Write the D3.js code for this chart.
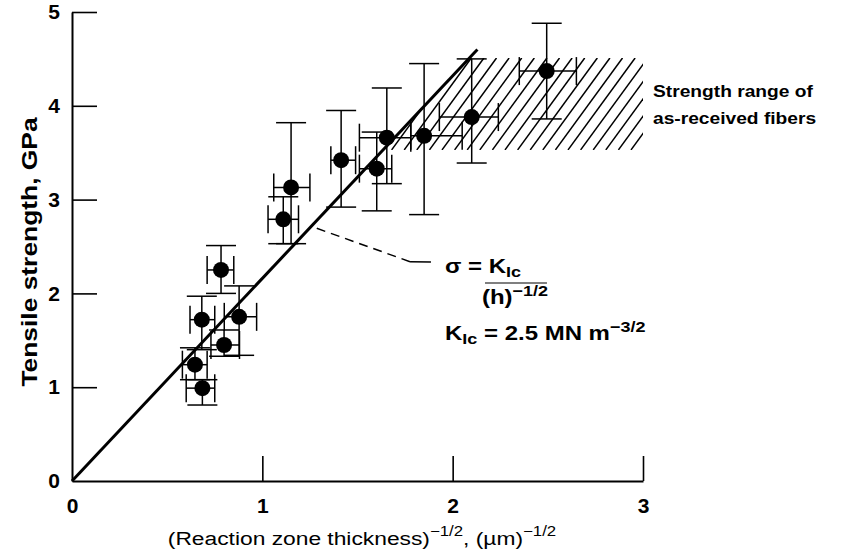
<!DOCTYPE html>
<html>
<head>
<meta charset="utf-8">
<script src="https://cdn.jsdelivr.net/npm/d3@7"></script>
<style>
  body { margin: 0; background: #fff; }
  text { font-family: "Liberation Sans", Arial, Helvetica, sans-serif; fill: #000; }
</style>
</head>
<body>
<div id="chart"></div>
<script>
// Measured points: x = (reaction zone thickness)^-1/2, y = tensile strength (GPa)
const xVals = [0.685, 0.646, 0.799, 0.682, 0.878, 0.783, 1.11, 1.151, 1.414, 1.601, 1.654, 1.85, 2.10, 2.494];
const yVals = [0.99, 1.24, 1.45, 1.72, 1.75, 2.25, 2.79, 3.13, 3.42, 3.33, 3.66, 3.68, 3.88, 4.37];
// error bar ends
const xLo = [0.60, 0.58, 0.73, 0.62, 0.80, 0.71, 1.03, 1.06, 1.36, 1.51, 1.51, 1.78, 1.93, 2.35];
const xHi = [0.75, 0.71, 0.88, 0.75, 0.97, 0.85, 1.19, 1.25, 1.49, 1.68, 1.78, 2.05, 2.24, 2.65];
const yLo = [0.81, 1.08, 1.33, 1.40, 1.34, 2.00, 2.53, 2.53, 2.92, 2.88, 3.17, 2.84, 3.39, 3.86];
const yHi = [1.08, 1.42, 1.61, 1.97, 2.08, 2.51, 3.03, 3.82, 3.95, 3.72, 4.19, 4.45, 4.50, 4.88];

// fitted line sigma = K / h^-1/2
const fitX = [0, 2.13];
const fitY = [0, 4.60];

// strength range of as-received fibers (hatched band)
const bandY = [3.53, 4.51];
const bandXEnd = 3;

// dashed leader from the line to the equation
const leaderX = [1.286, 1.776, 1.886];
const leaderY = [2.694, 2.338, 2.335];

const xTicks = [0, 1, 2, 3];
const yTicks = [0, 1, 2, 3, 4, 5];

const width = 843, height = 554;
const margin = { top: 12, right: 200, bottom: 73, left: 72 };
// lettering in the original is a little wider than Arial
const stretch = 1.2;

const svg = d3.select("#chart")
    .append("svg")
    .attr("width", width)
    .attr("height", height);

const x = d3.scaleLinear().domain([0, 3]).range([margin.left, width - margin.right]);
const y = d3.scaleLinear().domain([0, 5]).range([height - margin.bottom, margin.top]);

// text placed at (px, py) and widened horizontally
function wideText(px, py, size, bold, anchor, rot) {
    const g = svg.append("g")
        .attr("transform", `translate(${px}, ${py})${rot ? " rotate(" + rot + ")" : ""} scale(${stretch}, 1)`);
    return g.append("text")
        .attr("text-anchor", anchor || "start")
        .style("font-size", size + "px")
        .style("font-weight", bold ? "bold" : "normal");
}

// Axes with inward ticks
const xAxis = svg.append("g")
    .attr("transform", `translate(0, ${y(0)})`)
    .call(d3.axisBottom(x).tickValues(xTicks).tickFormat(d3.format("d"))
        .tickSize(-25).tickSizeOuter(0).tickPadding(17));

const yAxis = svg.append("g")
    .attr("transform", `translate(${x(0)}, 0)`)
    .call(d3.axisLeft(y).tickValues(yTicks).tickFormat(d3.format("d"))
        .tickSize(-25).tickSizeOuter(0).tickPadding(12));

[xAxis, yAxis].forEach(g => {
    g.select(".domain").attr("stroke", "#000").attr("stroke-width", 2);
    g.selectAll(".tick line").attr("stroke", "#000").attr("stroke-width", 1.6);
    g.selectAll(".tick text")
        .style("font-size", "21px")
        .style("font-weight", "bold")
        .attr("fill", "#000");
});
// no inner tick at the origin
xAxis.selectAll(".tick").filter(d => d === 0).select("line").remove();
yAxis.selectAll(".tick").filter(d => d === 0).select("line").remove();

// Hatched band, clipped between the fit line and x = 3
const slope = fitY[1] / fitX[1];
const bandPoly = [
    [x(bandY[0] / slope), y(bandY[0])],
    [x(bandY[1] / slope), y(bandY[1])],
    [x(bandXEnd), y(bandY[1])],
    [x(bandXEnd), y(bandY[0])]
];
svg.append("clipPath")
    .attr("id", "bandClip")
    .append("path")
    .attr("d", "M" + bandPoly.join("L") + "Z");

const hatch = svg.append("g").attr("clip-path", "url(#bandClip)");
const hTop = y(bandY[1]), hBot = y(bandY[0]);
const run = (hBot - hTop) / 1.37;
for (let sx = bandPoly[0][0] - run; sx < x(bandXEnd) + 5; sx += 12.6) {
    hatch.append("line")
        .attr("x1", sx).attr("y1", hBot)
        .attr("x2", sx + run).attr("y2", hTop)
        .attr("stroke", "#000")
        .attr("stroke-width", 1.5);
}

// Fitted line
svg.append("line")
    .attr("x1", x(fitX[0])).attr("y1", y(fitY[0]))
    .attr("x2", x(fitX[1])).attr("y2", y(fitY[1]))
    .attr("stroke", "#000")
    .attr("stroke-width", 3);

// Error bars
const data = xVals.map((d, i) => ({ x: d, y: yVals[i], xl: xLo[i], xh: xHi[i], yl: yLo[i], yh: yHi[i] }));
const capV = 15, capH = 14;
const bars = svg.append("g")
    .attr("stroke", "#000")
    .attr("stroke-width", 1.5);

data.forEach(d => {
    const g = bars.append("g");
    g.append("line").attr("x1", x(d.x)).attr("x2", x(d.x)).attr("y1", y(d.yl)).attr("y2", y(d.yh));
    g.append("line").attr("x1", x(d.x) - capV).attr("x2", x(d.x) + capV).attr("y1", y(d.yl)).attr("y2", y(d.yl));
    g.append("line").attr("x1", x(d.x) - capV).attr("x2", x(d.x) + capV).attr("y1", y(d.yh)).attr("y2", y(d.yh));
    g.append("line").attr("x1", x(d.xl)).attr("x2", x(d.xh)).attr("y1", y(d.y)).attr("y2", y(d.y));
    g.append("line").attr("x1", x(d.xl)).attr("x2", x(d.xl)).attr("y1", y(d.y) - capH).attr("y2", y(d.y) + capH);
    g.append("line").attr("x1", x(d.xh)).attr("x2", x(d.xh)).attr("y1", y(d.y) - capH).attr("y2", y(d.y) + capH);
});

// Points
svg.append("g")
    .selectAll("circle")
    .data(data)
    .enter()
    .append("circle")
    .attr("cx", d => x(d.x))
    .attr("cy", d => y(d.y))
    .attr("r", 8)
    .attr("fill", "#000");

// Leader line to the equation
svg.append("path")
    .attr("d", `M${x(leaderX[0])},${y(leaderY[0])}L${x(leaderX[1])},${y(leaderY[1])}`)
    .attr("stroke", "#000")
    .attr("stroke-width", 1.5)
    .attr("stroke-dasharray", "9,6")
    .attr("fill", "none");
svg.append("line")
    .attr("x1", x(leaderX[1])).attr("y1", y(leaderY[1]))
    .attr("x2", x(leaderX[2])).attr("y2", y(leaderY[2]))
    .attr("stroke", "#000")
    .attr("stroke-width", 1.5);

// Equation text
const eqX = x(leaderX[2]) + 14;
const eqY = y(leaderY[2]) + 11;
const eq1 = wideText(eqX, eqY, 20, true);
eq1.append("tspan").text("σ = K");
eq1.append("tspan").attr("dy", 4).style("font-size", "15px").text("Ic");

svg.append("line")
    .attr("x1", eqX + 40).attr("x2", eqX + 102)
    .attr("y1", eqY + 10).attr("y2", eqY + 10)
    .attr("stroke", "#000").attr("stroke-width", 1.2);

const eq2 = wideText(eqX + 37, eqY + 31, 20, true);
eq2.append("tspan").text("(h)");
eq2.append("tspan").attr("dy", -8).style("font-size", "15px").text("−1/2");

const eq3 = wideText(eqX, eqY + 67, 20, true);
eq3.append("tspan").text("K");
eq3.append("tspan").attr("dy", 4).style("font-size", "15px").text("Ic");
eq3.append("tspan").attr("dy", -4).text(" = 2.5 MN m");
eq3.append("tspan").attr("dy", -8).style("font-size", "15px").text("−3/2");

// Band label
const bl1 = wideText(x(bandXEnd) + 10, 97, 16, true);
bl1.text("Strength range of");
const bl2 = wideText(x(bandXEnd) + 10, 124, 16, true);
bl2.text("as-received fibers");

// Axis titles
const xTitle = wideText(362, 545, 19, false, "middle");
xTitle.append("tspan").text("(Reaction zone thickness)");
xTitle.append("tspan").attr("dy", -9).style("font-size", "14px").text("−1/2");
xTitle.append("tspan").attr("dy", 9).text(", (µm)");
xTitle.append("tspan").attr("dy", -9).style("font-size", "14px").text("−1/2");

wideText(37, 252, 22, true, "middle", -90).text("Tensile strength, GPa");
</script>
</body>
</html>
